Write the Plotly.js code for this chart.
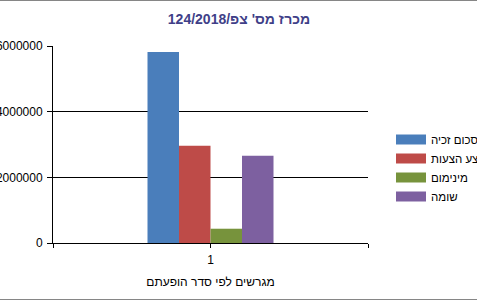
<!DOCTYPE html>
<html>
<head>
<meta charset="utf-8">
<script src="https://cdn.plot.ly/plotly-3.0.1.min.js"></script>
<style>
  html, body { margin:0; padding:0; overflow:hidden; background:#fff; }
  #wrap { position:relative; width:477px; height:298px; border-top:1px solid #868686; border-bottom:1px solid #868686; overflow:hidden; }
  #chart { position:absolute; top:-1px; left:-10px; width:560px; height:300px; }
</style>
</head>
<body>
<div id="wrap"><div id="chart"></div></div>
<script>
const categories = [1];
const seriesNames = ['סכום זכיה', 'ממוצע הצעות', 'מינימום', 'שומה'];
const winningAmount = [5820000];
const averageBids = [2960000];
const minimumValues = [435000];
const appraisal = [2655000];
const seriesColors = ['#4a7ebb', '#be4b48', '#77933c', '#7d60a0'];
const chartTitle = "\u202Bמכרז מס' צפ/124/2018\u202C";
const xTitle = 'מגרשים לפי סדר הופעתם';
const yTicks = [0, 2000000, 4000000, 6000000];

const seriesValues = [winningAmount, averageBids, minimumValues, appraisal];
const FONT = '"Liberation Sans", Arial, sans-serif';

const traces = [];
seriesValues.forEach((vals, i) => {
  traces.push({
    type: 'bar', x: categories, y: vals, name: seriesNames[i],
    marker: { color: seriesColors[i] }, showlegend: false, hoverinfo: 'skip'
  });
});
seriesValues.forEach((vals, i) => {
  traces.push({
    type: 'scatter', mode: 'lines', x: [null], y: [null], name: seriesNames[i],
    line: { color: seriesColors[i], width: 10 }, showlegend: true, hoverinfo: 'skip'
  });
});

const layout = {
  width: 560, height: 300,
  margin: { l: 63, r: 182, t: 46, b: 57 },
  paper_bgcolor: '#ffffff', plot_bgcolor: '#ffffff',
  font: { family: FONT, size: 11, color: '#000000' },
  title: {
    text: chartTitle, xref: 'container', x: 249 / 560, xanchor: 'center',
    yref: 'container', y: 1 - 19 / 300, yanchor: 'middle',
    font: { family: FONT, size: 14, color: '#3f3f88', weight: 'bold' }
  },
  barmode: 'group', bargap: 0.6, bargroupgap: 0,
  xaxis: {
    type: 'linear', range: [0.5, 1.5],
    tickvals: [0.5, 1, 1.5], ticktext: ['', '1', ''],
    ticks: 'outside', ticklen: 4, tickcolor: '#000', tickwidth: 1,
    ticklabelstandoff: 2,
    showline: true, linecolor: '#000', linewidth: 1,
    showgrid: false, zeroline: false, fixedrange: true,
    tickfont: { family: FONT, size: 12, color: '#000' },
    title: { text: xTitle, standoff: 11, font: { family: FONT, size: 12, color: '#000' } }
  },
  yaxis: {
    range: [0, 6000000], tickvals: yTicks, tickformat: 'd',
    ticks: 'outside', ticklen: 5, tickcolor: '#000', tickwidth: 1,
    ticklabelstandoff: 2,
    showline: true, linecolor: '#000', linewidth: 1,
    showgrid: true, gridcolor: '#000', gridwidth: 1,
    zeroline: false, fixedrange: true,
    tickfont: { family: FONT, size: 12, color: '#000' }
  },
  legend: {
    xref: 'container', yref: 'container',
    x: 401 / 560, xanchor: 'left', y: 1 - 125 / 300, yanchor: 'top',
    bgcolor: 'rgba(0,0,0,0)', borderwidth: 0,
    font: { family: FONT, size: 11.5, color: '#000' },
    itemwidth: 30, tracegroupgap: 0
  },
  showlegend: true
};

Plotly.newPlot('chart', traces, layout, { displayModeBar: false, staticPlot: true });
</script>
</body>
</html>
